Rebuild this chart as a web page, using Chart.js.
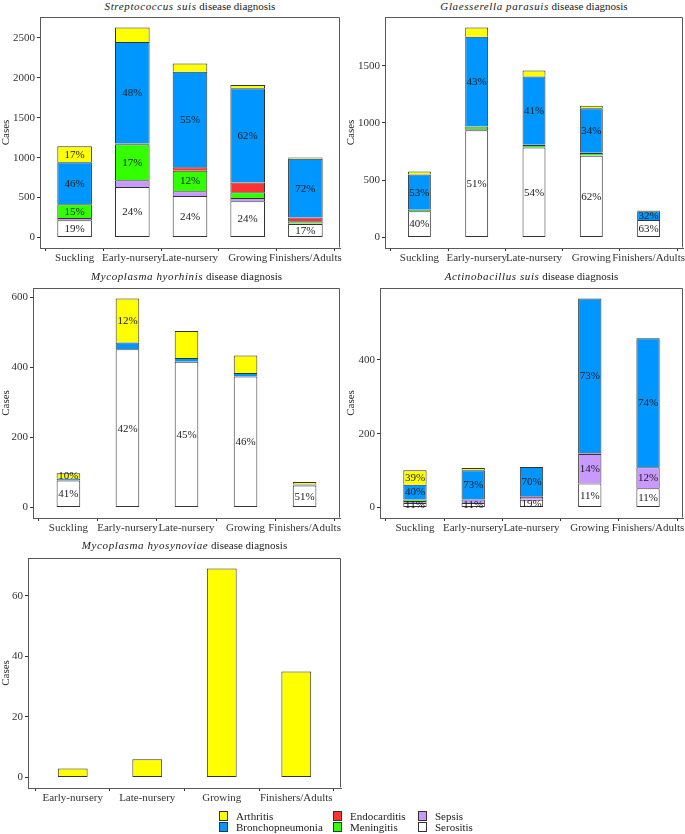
<!DOCTYPE html>
<html><head><meta charset="utf-8">
<script src="https://cdn.jsdelivr.net/npm/chart.js@4.4.1/dist/chart.umd.min.js"></script>
<style>
html,body{margin:0;padding:0;background:#fff;}
#fig{position:relative;width:685px;height:834px;background:#fff;font-family:'Liberation Serif','Times New Roman',serif;overflow:hidden;}
.ttl{position:absolute;font-size:11px;color:#1a1a1a;white-space:nowrap;transform:translateX(-50%);line-height:13px;}
.ttl i{letter-spacing:0.6px;}
canvas{position:absolute;}
.leg{position:absolute;font-size:11px;color:#1a1a1a;line-height:12px;white-space:nowrap;}
.key{position:absolute;width:9px;height:10px;border:1px solid #333;box-sizing:border-box;}
</style></head>
<body><div id="fig"></div>
<script>
// ---------- data ----------
const stages = ['Suckling','Early-nursery','Late-nursery','Growing','Finishers/Adults'];
const stagesMhs = ['Early-nursery','Late-nursery','Growing','Finishers/Adults'];
const diseases = ['Arthritis','Bronchopneumonia','Endocarditis','Meningitis','Sepsis','Serositis'];
const diseaseColors = ['#FFFF00','#0096FF','#FF3333','#33FF00','#C999FF','#FFFFFF'];
const pathogens = ['Streptococcus suis','Glaesserella parasuis','Mycoplasma hyorhinis','Actinobacillus suis','Mycoplasma hyosynoviae'];

// Streptococcus suis
const ssSerositis    = [215, 633, 518, 455, 170];
const ssSepsis       = [28, 85, 60, 40, 8];
const ssMeningitis   = [172, 448, 258, 70, 25];
const ssEndocarditis = [3, 10, 42, 125, 47];
const ssBroncho      = [525, 1273, 1197, 1178, 735];
const ssArthritis    = [199, 180, 102, 42, 15];
const ssSerositisLbl  = ['19%','24%','24%','24%','17%'];
const ssMeningitisLbl = ['15%','17%','12%','',''];
const ssBronchoLbl    = ['46%','48%','55%','62%','72%'];
const ssArthritisLbl  = ['17%','','','',''];
const ssTicks = [0, 500, 1000, 1500, 2000, 2500];

// Glaesserella parasuis
const gpSerositis    = [230, 936, 785, 714, 152];
const gpSepsis       = [2, 12, 5, 3, 0];
const gpMeningitis   = [8, 20, 17, 20, 0];
const gpEndocarditis = [2, 3, 2, 3, 0];
const gpBroncho      = [307, 782, 596, 388, 78];
const gpArthritis    = [26, 80, 52, 22, 6];
const gpSerositisLbl = ['40%','51%','54%','62%','63%'];
const gpBronchoLbl   = ['53%','43%','41%','34%','32%'];
const gpTicks = [0, 500, 1000, 1500];

// Mycoplasma hyorhinis
const mhSerositis = [77, 452, 416, 374, 63];
const mhBroncho   = [6, 19, 11, 10, 3];
const mhArthritis = [15, 126, 77, 50, 7];
const mhSerositisLbl = ['41%','42%','45%','46%','51%'];
const mhArthritisLbl = ['10%','12%','','',''];
const mhTicks = [0, 200, 400, 600];

// Actinobacillus suis
const asSerositis    = [12, 12, 21, 65, 52];
const asSepsis       = [6, 10, 8, 80, 57];
const asMeningitis   = [4, 0, 0, 0, 0];
const asEndocarditis = [0, 0, 2, 2, 0];
const asBroncho      = [40, 79, 79, 419, 349];
const asArthritis    = [39, 6, 0, 0, 0];
const asSerositisLbl = ['11%','11%','19%','11%','11%'];
const asSepsisLbl    = ['','','','14%','12%'];
const asBronchoLbl   = ['40%','73%','70%','73%','74%'];
const asArthritisLbl = ['39%','','','',''];
const asTicks = [0, 200, 400];

// Mycoplasma hyosynoviae
const mysArthritis = [3, 6, 69, 35];
const mysTicks = [0, 20, 40, 60];

// ---------- panels ----------
const panels = [
  {cats: stages, ticks: ssTicks, barPct: 0.6, series: [
    {name:'Serositis', values: ssSerositis, labels: ssSerositisLbl},
    {name:'Sepsis', values: ssSepsis},
    {name:'Meningitis', values: ssMeningitis, labels: ssMeningitisLbl},
    {name:'Endocarditis', values: ssEndocarditis},
    {name:'Bronchopneumonia', values: ssBroncho, labels: ssBronchoLbl},
    {name:'Arthritis', values: ssArthritis, labels: ssArthritisLbl}]},
  {cats: stages, ticks: gpTicks, barPct: 0.4, series: [
    {name:'Serositis', values: gpSerositis, labels: gpSerositisLbl},
    {name:'Sepsis', values: gpSepsis},
    {name:'Meningitis', values: gpMeningitis},
    {name:'Endocarditis', values: gpEndocarditis},
    {name:'Bronchopneumonia', values: gpBroncho, labels: gpBronchoLbl},
    {name:'Arthritis', values: gpArthritis}]},
  {cats: stages, ticks: mhTicks, barPct: 0.4, series: [
    {name:'Serositis', values: mhSerositis, labels: mhSerositisLbl},
    {name:'Bronchopneumonia', values: mhBroncho},
    {name:'Arthritis', values: mhArthritis, labels: mhArthritisLbl}]},
  {cats: stages, ticks: asTicks, barPct: 0.4, series: [
    {name:'Serositis', values: asSerositis, labels: asSerositisLbl},
    {name:'Sepsis', values: asSepsis, labels: asSepsisLbl},
    {name:'Meningitis', values: asMeningitis},
    {name:'Endocarditis', values: asEndocarditis},
    {name:'Bronchopneumonia', values: asBroncho, labels: asBronchoLbl},
    {name:'Arthritis', values: asArthritis, labels: asArthritisLbl}]},
  {cats: stagesMhs, ticks: mysTicks, barPct: 0.4, series: [
    {name:'Arthritis', values: mysArthritis}]}
];

// layout (positions only)
const layouts = [
  {x:0,   y:14,  w:345, h:262, yw:40, pr:5, pt:3, xh:28, tx:190,   ty:0},
  {x:345, y:14,  w:340, h:262, yw:40, pr:2, pt:3, xh:28, tx:534,   ty:0},
  {x:0,   y:284, w:345, h:262, yw:33, pr:5, pt:4, xh:28, tx:186.5, ty:269.5},
  {x:345, y:284, w:340, h:262, yw:35, pr:2, pt:4, xh:28, tx:531.5, ty:269.5},
  {x:0,   y:552, w:345, h:262, yw:28, pr:4, pt:6, xh:26, tx:184.5, ty:539}
];

const FONT = "'Liberation Serif', 'Times New Roman', serif";
const fig = document.getElementById('fig');
const colorOf = n => diseaseColors[diseases.indexOf(n)];

const framePlugin = {
  id: 'frame',
  afterDraw(chart) {
    const {ctx, chartArea: a} = chart;
    ctx.save();
    ctx.strokeStyle = '#595959'; ctx.lineWidth = 1;
    const l = Math.round(a.left) + 0.5, t = Math.round(a.top) + 0.5;
    const r = Math.round(a.right) - 0.5, b = Math.round(a.bottom) - 0.5;
    ctx.beginPath(); ctx.moveTo(l, t); ctx.lineTo(r, t); ctx.lineTo(r, b); ctx.stroke();
    ctx.restore();
  }
};
const labelPlugin = {
  id: 'segLabels',
  afterDatasetsDraw(chart) {
    const ctx = chart.ctx;
    ctx.save();
    ctx.font = "11px " + FONT; ctx.fillStyle = '#1a1a1a';
    ctx.textAlign = 'center'; ctx.textBaseline = 'middle';
    chart.data.datasets.forEach((ds, k) => {
      const meta = chart.getDatasetMeta(k);
      (ds.segLabels || []).forEach((t, i) => {
        if (!t) return;
        const el = meta.data[i];
        ctx.fillText(t, el.x, (el.y + el.base) / 2 + 0.5);
      });
    });
    ctx.restore();
  }
};

panels.forEach((p, idx) => {
  const L = layouts[idx];
  const cv = document.createElement('canvas');
  cv.width = L.w; cv.height = L.h;
  cv.style.left = L.x + 'px'; cv.style.top = L.y + 'px';
  cv.style.width = L.w + 'px'; cv.style.height = L.h + 'px';
  fig.appendChild(cv);
  const n = p.cats.length;
  const totals = p.cats.map((_, i) => p.series.reduce((a, s) => a + s.values[i], 0));
  const top = Math.max(...totals);
  const font = {family: FONT, size: 11};
  const grid = {display: true, drawOnChartArea: false, drawTicks: true, tickLength: 3, color: '#333', lineWidth: 1};
  const border = {display: true, color: '#595959', width: 1};
  new Chart(cv, {
    type: 'bar',
    data: {datasets: p.series.map((s, k) => ({
      label: s.name,
      data: s.values.map((v, i) => ({x: i, y: v})),
      backgroundColor: colorOf(s.name),
      borderColor: '#333',
      borderWidth: {top: 1, left: 1, right: 1, bottom: k === 0 ? 1 : 0},
      borderSkipped: false,
      stack: 'all',
      categoryPercentage: 1,
      barPercentage: p.barPct,
      segLabels: s.labels
    }))},
    options: {
      responsive: false, animation: false, devicePixelRatio: 1,
      layout: {padding: {left: 0, right: L.pr, top: L.pt, bottom: 0}},
      plugins: {legend: {display: false}, tooltip: {enabled: false}, title: {display: false}},
      scales: {
        x: {type: 'linear', min: -0.6, max: n - 0.4, offset: false,
          afterBuildTicks: s => { s.ticks = p.cats.map((c, i) => ({value: i})); },
          afterFit: s => { s.height = L.xh; s.paddingLeft = 0; s.paddingRight = 0; },
          ticks: {callback: v => p.cats[v], autoSkip: false, maxRotation: 0, minRotation: 0, font, color: '#333', padding: 1},
          grid, border},
        y: {type: 'linear', min: -0.05 * top, max: 1.05 * top,
          afterBuildTicks: s => { s.ticks = p.ticks.map(v => ({value: v})); },
          afterFit: s => { s.width = L.yw; s.paddingTop = 0; s.paddingBottom = 0; },
          ticks: {callback: v => String(v), font, color: '#333', padding: 2},
          grid, border,
          title: {display: true, text: 'Cases', font, color: '#1a1a1a', padding: 0}}
      }
    },
    plugins: [framePlugin, labelPlugin]
  });
  const t = document.createElement('div');
  t.className = 'ttl';
  t.style.left = L.tx + 'px'; t.style.top = L.ty + 'px';
  const it = document.createElement('i');
  it.textContent = pathogens[idx];
  t.appendChild(it);
  t.appendChild(document.createTextNode(' disease diagnosis'));
  fig.appendChild(t);
});

// legend (column-major, 3 columns x 2 rows)
const legCols = [219, 333, 418];
const legRows = [810.5, 822];
diseases.forEach((d, i) => {
  const c = Math.floor(i / 2), r = i % 2;
  const k = document.createElement('div');
  k.className = 'key';
  k.style.left = legCols[c] + 'px'; k.style.top = legRows[r] + 'px';
  k.style.background = diseaseColors[i];
  fig.appendChild(k);
  const tx = document.createElement('div');
  tx.className = 'leg';
  tx.style.left = (legCols[c] + 17) + 'px'; tx.style.top = (legRows[r] - 1) + 'px';
  tx.textContent = d;
  fig.appendChild(tx);
});
</script>
</body></html>
